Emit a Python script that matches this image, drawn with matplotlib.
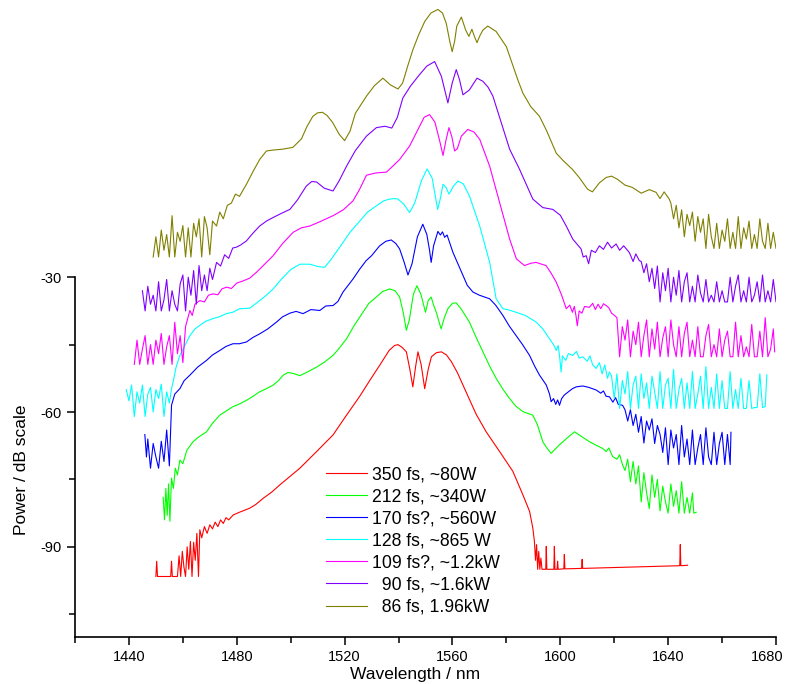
import matplotlib
matplotlib.use("Agg")
import matplotlib.pyplot as plt
from matplotlib.ticker import MultipleLocator, FixedLocator
from matplotlib.transforms import ScaledTranslation

plt.rcParams['font.family'] = ['Liberation Sans', 'DejaVu Sans']
plt.rcParams['axes.unicode_minus'] = False

# ---------------- data (wavelength nm, power dB) ----------------
labels = ["350 fs, ~80W", "212 fs, ~340W", "170 fs?, ~560W", "128 fs, ~865 W",
          "109 fs?, ~1.2kW", "  90 fs, ~1.6kW", "  86 fs, 1.96kW"]
colors = ["#FF0000", "#00FF00", "#0000FF", "#00FFFF", "#FF00FF", "#8000FF", "#808000"]

wl_red = [1450.0, 1450.3, 1450.6, 1455.5, 1455.8, 1456.1, 1458.0, 1458.6, 1459.2, 1459.8,
          1460.4, 1461.0, 1461.6, 1462.2, 1462.8, 1463.4, 1464.0, 1464.6, 1465.2, 1465.8,
          1466.3, 1467, 1468, 1469, 1470, 1471, 1472, 1473, 1474, 1475, 1476, 1477, 1478.7,
          1481, 1484.8, 1487, 1489.8, 1493, 1496.0, 1503.4, 1509.6, 1515.7, 1520.7, 1525.6,
          1529.3, 1533.0, 1536.5, 1538.5, 1539.8, 1541.3, 1542.9, 1544.2, 1545.3, 1546.3,
          1547.2, 1548.4, 1549.7, 1551.0, 1552.2, 1554.0, 1555.9, 1557.8, 1559.6, 1561.8,
          1563.9, 1566.3, 1568.8, 1572.5, 1577.5, 1582.4,
          1586.1, 1588.6, 1589.8, 1590.4, 1590.8, 1591.2, 1591.6, 1592.0, 1592.4, 1592.8,
          1593.2, 1594.6, 1594.8, 1595.0, 1597.6, 1597.8, 1598.0, 1598.8, 1599.0, 1599.2,
          1601.3, 1601.5, 1601.7, 1607.9, 1608.1, 1608.3, 1644.3, 1644.5, 1644.7, 1647.2]
p_red = [-96.6, -93.2, -96.6, -96.6, -93.2, -96.6, -96.6, -92.0, -96.6, -91.0,
         -94.5, -96.6, -90.0, -95.0, -88.8, -96.6, -89.0, -93.0, -87.0, -96.6,
         -86.2, -88.0, -85.5, -87.0, -85.1, -86.0, -84.5, -85.5, -84.0, -84.8, -83.5, -84.0, -82.9,
         -82.3, -81.4, -80.6, -79.2, -77.8, -76.2, -72.5, -68.8, -65.1, -60.7, -56.5,
         -53.0, -49.6, -46.3, -45.2, -45.0, -45.6, -46.6, -50.5, -54.4, -50.0,
         -46.6, -49.5, -54.8, -50.5, -47.7, -46.8, -46.6, -47.3, -48.8, -51.2,
         -54.0, -57.2, -60.5, -64.4, -68.8, -73.2,
         -78.4, -82.1, -85.8, -88.8, -93.0, -89.5, -95.0, -91.0, -95.0, -92.5,
         -95.0, -95.0, -89.9, -95.0, -95.0, -89.9, -95.0, -95.0, -93.2, -95.0,
         -94.9, -91.7, -94.9, -94.8, -92.8, -94.8, -94.2, -89.5, -94.2, -94.1]

wl_green = [1452.7, 1453.2, 1453.7, 1454.2, 1454.7, 1455.2, 1455.8, 1456.5, 1457.2, 1458.0,
            1458.9, 1460.0, 1461.5, 1463.8, 1466.0, 1468.8, 1471.0, 1473.7, 1476.0, 1478.6,
            1481.0, 1483.6, 1486.0, 1488.5, 1491.0, 1493.5, 1495.5, 1497.2, 1499.0, 1500.9,
            1503.4, 1506.5, 1509.6, 1512.5, 1515.7, 1518.0, 1520.7, 1523.5, 1526.8, 1529.0,
            1531.8, 1534.0, 1536.7, 1538.7, 1540.4, 1541.8, 1542.9, 1544.0, 1545.5, 1546.8,
            1548.3, 1550.0, 1551.0, 1552.1, 1553.0, 1554.0, 1555.8, 1557.0, 1558.3, 1560.0,
            1561.4, 1563.5, 1566.3, 1568.5, 1571.3, 1573.8, 1576.2, 1578.8, 1581.2, 1583.5,
            1586.1, 1589.8, 1591.5, 1593.5, 1595.0, 1596.6, 1598.0, 1599.7, 1602.5, 1605.3,
            1607.5, 1610.8, 1613.0, 1615.7, 1617.0, 1618.0, 1619.4, 1621.0, 1622.0, 1623.1,
            1624, 1625, 1626, 1627, 1628, 1629, 1630, 1631, 1632, 1633, 1634, 1635, 1636,
            1637, 1638, 1639, 1640, 1641, 1642, 1643, 1644, 1645, 1646, 1647, 1648, 1649,
            1649.5, 1650.4]
p_green = [-79.0, -84.0, -77.0, -83.0, -76.0, -84.3, -74.7, -77.0, -72.5, -74.0,
           -70.7, -71.5, -68.5, -66.6, -65.5, -64.4, -62.5, -60.7, -59.8, -58.8,
           -58.2, -57.4, -56.5, -55.5, -54.8, -54.0, -53.0, -51.8, -51.2, -51.4,
           -51.9, -51.0, -50.0, -48.9, -47.4, -45.8, -43.7, -40.8, -37.8, -35.8,
           -34.4, -33.2, -32.6, -33.0, -34.4, -38.0, -41.8, -39.5, -33.8, -31.9,
           -33.8, -37.8, -35.2, -34.4, -36.2, -37.8, -41.5, -39.0, -37.0, -35.8,
           -35.7, -37.3, -40.0, -43.0, -46.6, -49.8, -52.5, -55.0, -57.0, -58.7,
           -59.9, -60.7, -62.8, -66.6, -68.0, -69.2, -68.3, -67.3, -65.8, -64.4,
           -65.3, -66.6, -67.3, -68.1, -68.8, -68.0, -69.9, -70.5, -69.5, -71.8,
           -73.0, -70.5, -75.5, -71.0, -76.0, -72.0, -80.0, -73.5, -78.0, -81.5, -74.0, -79.0, -75.0,
           -82.0, -76.5, -80.0, -82.5, -76.0, -81.0, -77.5, -82.5, -75.5, -82.5, -79.0, -82.5, -78.0,
           -82.5, -82.3]

wl_blue = [1445.9, 1446.5, 1447, 1448, 1449, 1450, 1451, 1452, 1453, 1454, 1455,
           1455.8, 1457.0, 1458.9, 1460.5, 1462.6, 1465.5, 1468.8, 1471.0, 1473.7, 1476.0,
           1478.6, 1481.0, 1483.6, 1486.0, 1488.5, 1491.5, 1494.7, 1497.0, 1499.7, 1502.0,
           1504.6, 1507.5, 1510.8, 1513.0, 1515.7, 1517.5, 1519.4, 1521.3, 1523.1, 1525.6,
           1528.0, 1530.0, 1533.0, 1535.3, 1537.3, 1539.0, 1540.4, 1542.0, 1543.5, 1545.0,
           1547.0, 1549.0, 1550.5, 1551.5, 1552.1, 1553.0, 1554.6, 1555.5, 1556.3, 1557.1,
           1558.0, 1558.8, 1560.2, 1562.0, 1563.9, 1565.5, 1567.6, 1570.0, 1573.8, 1576.0,
           1578.7, 1581.0, 1583.6, 1586.0, 1588.6, 1590.5, 1592.3, 1594.8, 1596.0, 1596.6,
           1597.5, 1598.3, 1599.0, 1599.7, 1600.5, 1601.5, 1603.0, 1604.5, 1605.9, 1608.3,
           1610.5, 1613.3, 1615.0, 1616.0, 1617.0, 1618.2, 1619.5, 1620.5, 1621.5, 1623.1,
           1624, 1625, 1626, 1627, 1628, 1629, 1630, 1631, 1632, 1633, 1634, 1635, 1636,
           1637, 1638, 1639, 1640, 1641, 1642, 1643, 1644, 1645, 1646, 1647, 1648, 1649,
           1650, 1651, 1652, 1653, 1654, 1655, 1656, 1657, 1658, 1659, 1660, 1661, 1662,
           1663, 1663.3]
p_blue = [-65.0, -70.0, -66.0, -72.5, -67.0, -70.0, -72.5, -66.5, -71.0, -64.0, -72.0,
          -58.5, -56.0, -54.8, -53.0, -51.8, -50.0, -48.5, -47.3, -46.3, -45.4,
          -44.8, -44.8, -44.4, -43.4, -42.6, -41.5, -40.0, -38.8, -38.0, -37.6,
          -38.1, -37.2, -37.4, -36.4, -36.3, -35.4, -33.3, -31.8, -30.4, -28.2,
          -26.3, -25.2, -23.0, -22.0, -21.7, -22.5, -23.7, -26.5, -29.5, -27.0,
          -21.0, -18.2, -20.5, -24.0, -26.7, -23.0, -19.8, -20.6, -19.9, -21.1,
          -20.6, -22.0, -24.5, -27.0, -29.6, -31.8, -33.3, -34.0, -34.8, -36.2,
          -38.5, -40.8, -43.0, -45.0, -47.4, -49.8, -51.8, -54.0, -56.0, -57.7,
          -57.0, -58.3, -57.3, -58.5, -57.0, -56.2, -55.5, -54.8, -54.4, -54.2,
          -54.5, -55.1, -55.8, -55.3, -56.5, -56.6, -57.8, -56.8, -58.3, -58.5,
          -59.5, -62.0, -59.5, -63.0, -60.5, -64.5, -61.0, -66.9, -62.0, -64.0, -61.5, -67.0, -63.0,
          -65.0, -69.0, -63.5, -71.7, -64.0, -68.0, -65.0, -71.7, -63.0, -70.0, -66.0, -71.7, -64.0,
          -71.7, -68.0, -65.0, -71.7, -63.5, -70.0, -71.7, -64.5, -71.7, -67.0, -64.5, -71.7, -65.0,
          -71.7, -64.5]

wl_cyan = [1439, 1440, 1441, 1442, 1443, 1444, 1445, 1446, 1447, 1448, 1449, 1450, 1451,
           1452, 1453, 1454, 1455, 1455.8, 1456.5, 1457.5, 1458.9, 1460.5, 1462.6, 1464.5,
           1466.3, 1468.5, 1471.2, 1473.5, 1476.2, 1478.5, 1481.1, 1484.8, 1488.5, 1491.0,
           1493.5, 1496.6, 1500.0, 1503.4, 1507.1, 1510.0, 1512.6, 1515.0, 1518.2, 1522.0,
           1525.6, 1528.5, 1531.8, 1534.5, 1536.7, 1538.5, 1539.8, 1542.0, 1544.1, 1546.0,
           1548.5, 1550.6, 1552.5, 1554.5, 1555.5, 1556.5, 1557.6, 1558.7, 1560.3, 1562.0,
           1564.0, 1566.3, 1570.1, 1573.8, 1576.2, 1578.7, 1581.0, 1583.6, 1587.0, 1591.1,
           1593.5, 1596.0, 1597.5, 1598.5, 1599.2, 1599.7, 1600.3, 1600.8, 1602.0, 1603.0,
           1604.6, 1606.0, 1607.0, 1608.3, 1610.0, 1611.0, 1612.0, 1613.3, 1614.5, 1615.5,
           1616.5, 1617.5, 1618.2,
           1619, 1620, 1621, 1622, 1623, 1624, 1625, 1626, 1627, 1628, 1629, 1630, 1631,
           1632, 1633, 1634, 1635, 1636, 1637, 1638, 1639, 1640, 1641, 1642, 1643, 1644,
           1645, 1646, 1647, 1648, 1649, 1650, 1651, 1652, 1653, 1654, 1655, 1656, 1657,
           1658, 1659, 1660, 1661, 1662, 1663, 1664, 1665, 1666, 1667, 1668, 1669, 1670,
           1671, 1672, 1673, 1674, 1675, 1676, 1676.6]
p_cyan = [-55.0, -57.5, -54.0, -61.0, -55.5, -58.0, -54.0, -61.0, -56.0, -54.5, -60.0, -55.0, -57.0,
          -53.8, -61.0, -55.5, -58.0, -54.8, -53.0, -50.0, -47.4, -45.5, -43.0, -41.5,
          -40.7, -39.8, -39.2, -38.8, -38.1, -37.8, -37.0, -36.9, -35.2, -34.0,
          -32.6, -30.4, -28.3, -27.1, -27.1, -27.6, -27.8, -26.0, -23.3, -20.0,
          -17.5, -15.5, -14.1, -13.0, -12.6, -12.5, -12.6, -13.8, -15.6, -13.5,
          -8.5, -5.9, -8.0, -14.9, -12.5, -9.3, -10.0, -11.5, -9.8, -8.6,
          -9.2, -11.9, -18.6, -26.7, -34.8, -37.0, -37.3, -37.8, -38.5, -40.0,
          -41.5, -43.7, -45.0, -46.3, -45.2, -47.4, -51.1, -47.5, -48.5, -47.0,
          -47.4, -46.5, -48.0, -47.7, -48.7, -47.5, -49.5, -50.3, -49.0, -51.5,
          -49.5, -52.5, -51.1,
          -52.0, -57.0, -51.5, -59.2, -53.0, -56.0, -51.0, -59.2, -54.0, -52.0, -59.2, -51.5, -57.0,
          -53.5, -59.2, -52.0, -55.5, -59.2, -51.0, -59.2, -54.0, -52.5, -59.2, -50.5, -59.2, -55.0,
          -52.5, -59.2, -53.5, -59.2, -51.0, -59.2, -56.0, -52.0, -59.2, -49.9, -59.2, -54.5, -59.2,
          -51.5, -59.2, -53.0, -59.2, -59.2, -51.0, -59.2, -55.0, -59.2, -52.5, -59.2, -59.2, -53.0,
          -59.2, -59.0, -59.0, -51.5, -59.0, -58.8, -51.7]

wl_magenta = [1442, 1443, 1444, 1445, 1446, 1447, 1448, 1449, 1450, 1451, 1452, 1453, 1454,
              1455, 1456, 1457, 1458, 1459, 1460, 1461, 1462.6, 1463.5, 1464.5, 1466.3, 1468.0,
              1469.5, 1471.2, 1473.0, 1474.5, 1476.2, 1478.0, 1480.0, 1482.4, 1484.8, 1487.3,
              1490.0, 1493.5, 1497.0, 1500.9, 1504.0, 1507.1, 1511.0, 1515.7, 1519.5, 1523.1,
              1525.5, 1528.1, 1531.5, 1535.5, 1538.0, 1540.4, 1544.1, 1547.8, 1549.5, 1551.5,
              1553.5, 1555.2, 1556.5, 1557.6, 1558.7, 1559.8, 1560.8, 1561.8, 1563.3, 1565.7,
              1568.0, 1570.1, 1573.8, 1577.5, 1581.2, 1583.7, 1586.7, 1589.0, 1591.0, 1594.7,
              1596.5, 1598.5, 1600.5, 1602.2, 1603.5, 1604.5, 1605.2, 1605.8, 1606.3, 1607.0,
              1608.0, 1609.0, 1610.8, 1612.0, 1613.0, 1614.0, 1615.0, 1616.0, 1617.0, 1618.0,
              1619.0, 1620.1,
              1621, 1622, 1623, 1624, 1625, 1626, 1627, 1628, 1629, 1630, 1631, 1632, 1633,
              1634, 1635, 1636, 1637, 1638, 1639, 1640, 1641, 1642, 1643, 1644, 1645, 1646,
              1647, 1648, 1649, 1650, 1651, 1652, 1653, 1654, 1655, 1656, 1657, 1658, 1659,
              1660, 1661, 1662, 1663, 1664, 1665, 1666, 1667, 1668, 1669, 1670, 1671, 1672,
              1673, 1674, 1675, 1676, 1677, 1678, 1679, 1679.5]
p_magenta = [-49.4, -44.0, -49.4, -46.0, -43.0, -49.4, -45.0, -49.4, -44.0, -47.0, -42.5, -49.4, -45.5,
             -43.0, -49.4, -40.0, -47.0, -43.0, -49.0, -41.0, -37.4, -38.5, -36.0, -35.2, -35.5,
             -34.0, -33.7, -33.9, -32.6, -32.2, -32.5, -31.3, -30.8, -30.2, -28.9,
             -27.3, -25.2, -22.5, -20.0, -19.0, -18.6, -17.6, -16.3, -15.0, -13.0,
             -10.5, -7.3, -6.8, -6.6, -5.2, -3.8, -0.8, 3.6, 5.6, 6.2,
             4.5, 0.5, -2.9, 0.5, 3.3, 1.2, -1.9, -1.4, 1.4, 2.9,
             2.3, 0.7, -5.3, -13.4, -21.5, -25.9, -27.4, -26.9, -26.7, -27.4,
             -29.0, -31.1, -34.0, -37.0, -36.2, -37.8, -36.5, -38.5, -40.8, -37.5,
             -38.0, -36.5, -36.7, -35.8, -37.2, -36.0, -37.0, -35.9, -36.3, -36.8,
             -38.0, -38.5,
             -39.0, -47.7, -41.0, -44.0, -39.5, -47.7, -42.0, -45.0, -40.0, -47.7, -43.0, -39.5, -47.7,
             -41.5, -46.0, -40.0, -47.7, -43.5, -41.0, -47.7, -39.5, -45.0, -47.7, -41.0, -47.7, -42.5,
             -40.0, -47.7, -44.0, -47.7, -41.0, -47.7, -47.7, -43.0, -40.5, -47.7, -45.0, -47.7, -41.5,
             -47.7, -44.0, -42.0, -47.7, -47.7, -40.0, -47.7, -43.0, -47.7, -45.5, -47.7, -40.5, -47.7,
             -47.7, -42.0, -47.7, -39.0, -47.7, -46.0, -41.5, -46.6]

wl_purple = [1445, 1446, 1447, 1448, 1449, 1450, 1451, 1452, 1453, 1454, 1455, 1456, 1457,
             1458, 1459, 1460, 1461, 1462, 1463, 1464, 1465, 1466, 1467, 1468, 1469, 1470,
             1471, 1472.5, 1474.0, 1475.5, 1477.0, 1478.5, 1479.9, 1481.5, 1483.6, 1486.0,
             1488.5, 1491.0, 1493.5, 1496.5, 1499.7, 1502.5, 1505.8, 1507.8, 1509.6, 1512.5,
             1515.7, 1518.0, 1520.7, 1524.0, 1528.1, 1531.8, 1535.0, 1537.5, 1539.5, 1541.6,
             1544.5, 1547.8, 1550.5, 1553.4, 1555.9, 1557.2, 1558.3, 1559.9, 1561.4, 1562.6,
             1563.9, 1566.3, 1569.1, 1571.3, 1573.2, 1575.0, 1578.7, 1581.2, 1584.9, 1589.8,
             1593.5, 1597.2, 1600.0, 1602.2,
             1604.6, 1607.7, 1608.5, 1609.6, 1610.5, 1611.5, 1613.0, 1614.5, 1616.0, 1617.5,
             1619.0, 1620.7, 1622.0, 1623.5, 1625.6, 1627.0, 1628.0, 1629.3,
             1630, 1631, 1632, 1633, 1634, 1635, 1636, 1637, 1638, 1639, 1640, 1641, 1642,
             1643, 1644, 1645, 1646, 1647, 1648, 1649, 1650, 1651, 1652, 1653, 1654, 1655,
             1656, 1657, 1658, 1659, 1660, 1661, 1662, 1663, 1664, 1665, 1666, 1667, 1668,
             1669, 1670, 1671, 1672, 1673, 1674, 1675, 1676, 1677, 1678, 1679, 1680, 1681,
             1682, 1683]
p_purple = [-33.0, -37.5, -32.0, -36.0, -34.0, -37.5, -31.0, -37.5, -35.0, -30.5, -37.5, -33.0, -36.0,
            -37.5, -31.5, -29.5, -37.5, -30.0, -34.0, -28.5, -36.0, -27.4, -33.0, -29.5, -33.0, -28.0,
            -30.5, -26.7, -27.5, -25.0, -25.8, -23.5, -23.3, -22.8, -21.9, -20.2,
            -18.6, -17.5, -16.7, -15.8, -14.9, -12.8, -9.7, -8.7, -8.8, -10.2,
            -10.8, -8.5, -5.3, -1.8, 1.4, 3.3, 3.6, 3.2, 5.5, 9.9,
            12.6, 15.1, 17.0, 18.0, 14.7, 11.5, 8.8, 13.2, 16.2, 14.0,
            10.6, 11.7, 14.3, 13.6, 12.3, 10.3, 3.3, -1.5, -6.0, -12.6,
            -14.5, -14.9, -16.2, -18.6,
            -21.5, -23.7, -25.5, -25.2, -27.0, -24.0, -24.5, -23.0, -23.8, -22.2,
            -23.5, -22.6, -24.0, -23.0, -24.5, -26.5, -24.8, -26.3,
            -26.5, -29.0, -27.0, -31.0, -28.0, -32.5, -27.5, -35.5, -29.0, -33.0, -28.0, -35.5, -30.0,
            -34.0, -28.5, -35.5, -31.0, -29.0, -35.5, -32.0, -35.5, -29.5, -33.5, -35.5, -30.5, -35.5,
            -34.0, -35.5, -31.0, -35.5, -33.0, -35.5, -35.5, -30.0, -35.5, -32.0, -29.5, -35.5, -33.0,
            -35.5, -30.0, -35.5, -34.0, -31.0, -35.5, -29.5, -35.5, -33.0, -35.5, -30.5, -35.5, -32.0,
            -35.2, -35.0]

wl_olive = [1449, 1450, 1451, 1452, 1453, 1454, 1455, 1456, 1457, 1458, 1459, 1460, 1461,
            1462, 1463, 1464, 1465, 1466, 1467, 1468, 1469, 1470, 1471, 1472.5, 1473.7, 1475.0,
            1476.5, 1478.0, 1479.5, 1481.0, 1483.6, 1486.0, 1488.5, 1491.0, 1493.4, 1497.0,
            1500.8, 1504.0, 1506.0, 1508.2, 1510.0, 1511.8, 1513.5, 1515.6, 1518.0, 1520.0,
            1522.0, 1524.0, 1528.1, 1531.0, 1534.2, 1537.0, 1539.8, 1541.5, 1543.4, 1545.3,
            1547.5, 1549.7, 1552.0, 1554.6, 1556.3, 1557.7, 1559.0, 1559.9, 1560.8, 1561.6,
            1563.3, 1564.9, 1566.1, 1567.2, 1568.2, 1569.1, 1570.2, 1571.3, 1573.1, 1576.2,
            1580.0, 1584.2, 1586.1, 1589.0, 1592.3,
            1595.0, 1598.5, 1601.0, 1604.5, 1607.0, 1610.1, 1611.9, 1614.5, 1617.0, 1619.0,
            1621.2, 1624.0, 1626.7, 1630.0, 1633.0, 1635.5, 1637.0, 1638.5, 1640.4,
            1641, 1642, 1643, 1644, 1645, 1646, 1647, 1648, 1649, 1650, 1651, 1652, 1653,
            1654, 1655, 1656, 1657, 1658, 1659, 1660, 1661, 1662, 1663, 1664, 1665, 1666,
            1667, 1668, 1669, 1670, 1671, 1672, 1673, 1674, 1675, 1676, 1677, 1678, 1679,
            1680, 1681, 1682, 1683]
p_olive = [-25.5, -21.0, -25.5, -19.5, -24.0, -20.5, -25.5, -16.3, -25.5, -20.0, -22.0, -18.5, -25.5,
           -19.0, -25.5, -18.0, -21.0, -17.0, -25.5, -16.5, -19.0, -25.0, -17.5, -18.6, -15.5, -17.0,
           -14.0, -13.5, -11.5, -12.0, -9.3, -6.5, -3.8, -1.9, -1.7, -1.5,
           -1.1, 0.8, 3.5, 5.8, 6.6, 6.7, 6.0, 4.4, 1.8, 0.4,
           2.5, 6.5, 10.3, 12.6, 14.3, 12.8, 11.9, 13.2, 17.0, 20.6,
           24.0, 26.9, 28.8, 29.6, 28.8, 26.5, 22.5, 20.2, 22.5, 25.9,
           27.9, 25.0, 23.6, 25.2, 23.5, 22.2, 23.8, 25.0, 25.9, 24.7,
           21.3, 14.0, 11.0, 8.0, 5.8,
           2.5, -2.4, -4.0, -6.0, -7.8, -10.4, -11.0, -9.0, -7.8, -7.5,
           -8.2, -9.5, -10.0, -11.3, -10.5, -11.1, -12.5, -11.0, -12.6,
           -13.5, -17.0, -14.0, -19.0, -15.0, -21.0, -16.0, -18.5, -15.5, -22.0, -16.5, -20.0, -17.0,
           -23.6, -16.0, -21.0, -23.6, -18.0, -23.6, -19.5, -22.0, -17.0, -23.6, -20.0, -23.6, -16.5,
           -23.6, -19.0, -21.5, -17.5, -23.6, -20.5, -23.6, -17.0, -22.0, -23.6, -18.0, -23.6, -20.0,
           -23.6, -23.0, -23.0, -23.3]

x_major = [1440, 1480, 1520, 1560, 1600, 1640, 1680]
y_major = [-30, -60, -90]
y_minor = [-45, -75, -105]

series = [(wl_red, p_red), (wl_green, p_green), (wl_blue, p_blue), (wl_cyan, p_cyan),
          (wl_magenta, p_magenta), (wl_purple, p_purple), (wl_olive, p_olive)]

# ---------------- figure ----------------
fig = plt.figure(figsize=(7.85, 6.84), dpi=100)
ax = fig.add_axes([75 / 785, (684 - 636.7) / 684, 701 / 785, 636.7 / 684])

for (wl, p), c, lab in zip(series, colors, labels):
    ax.plot(wl, p, color=c, lw=0.8, label=lab, solid_joinstyle='round')

ax.set_xlim(1420, 1680)
ax.set_ylim(-110, 31.7)
ax.spines['top'].set_visible(False)
ax.spines['right'].set_visible(False)
ax.spines['left'].set_bounds(-110, -30)
ax.spines['left'].set_linewidth(1.2)
ax.spines['bottom'].set_linewidth(1.2)

ax.xaxis.set_major_locator(FixedLocator(x_major))
ax.xaxis.set_minor_locator(MultipleLocator(20))
ax.yaxis.set_major_locator(FixedLocator(y_major))
ax.yaxis.set_minor_locator(FixedLocator(y_minor))
ax.tick_params(axis='both', which='major', direction='out', length=6, width=1.1,
               labelsize=10.5, labelcolor='black')
ax.tick_params(axis='both', which='minor', direction='out', length=4, width=1.1)

ax.set_xlabel("Wavelength / nm", fontsize=12.5)
ax.set_ylabel("Power / dB scale", fontsize=12.5)
ax.xaxis.set_label_coords(0.485, -0.047)
ax.yaxis.set_label_coords(-0.066, 0.262)

# keep the last tick label inside the canvas
fig.canvas.draw()
for t in ax.get_xticklabels():
    if t.get_text() == "1680":
        t.set_transform(t.get_transform() + ScaledTranslation(-9 / 100, 0, fig.dpi_scale_trans))

leg = ax.legend(loc='upper left', bbox_to_anchor=(0.358, 0.268), frameon=False,
                fontsize=12.7, handlelength=2.3, handletextpad=0.3, labelspacing=0.29,
                borderpad=0, borderaxespad=0)

fig.savefig("out.png", dpi=100)
